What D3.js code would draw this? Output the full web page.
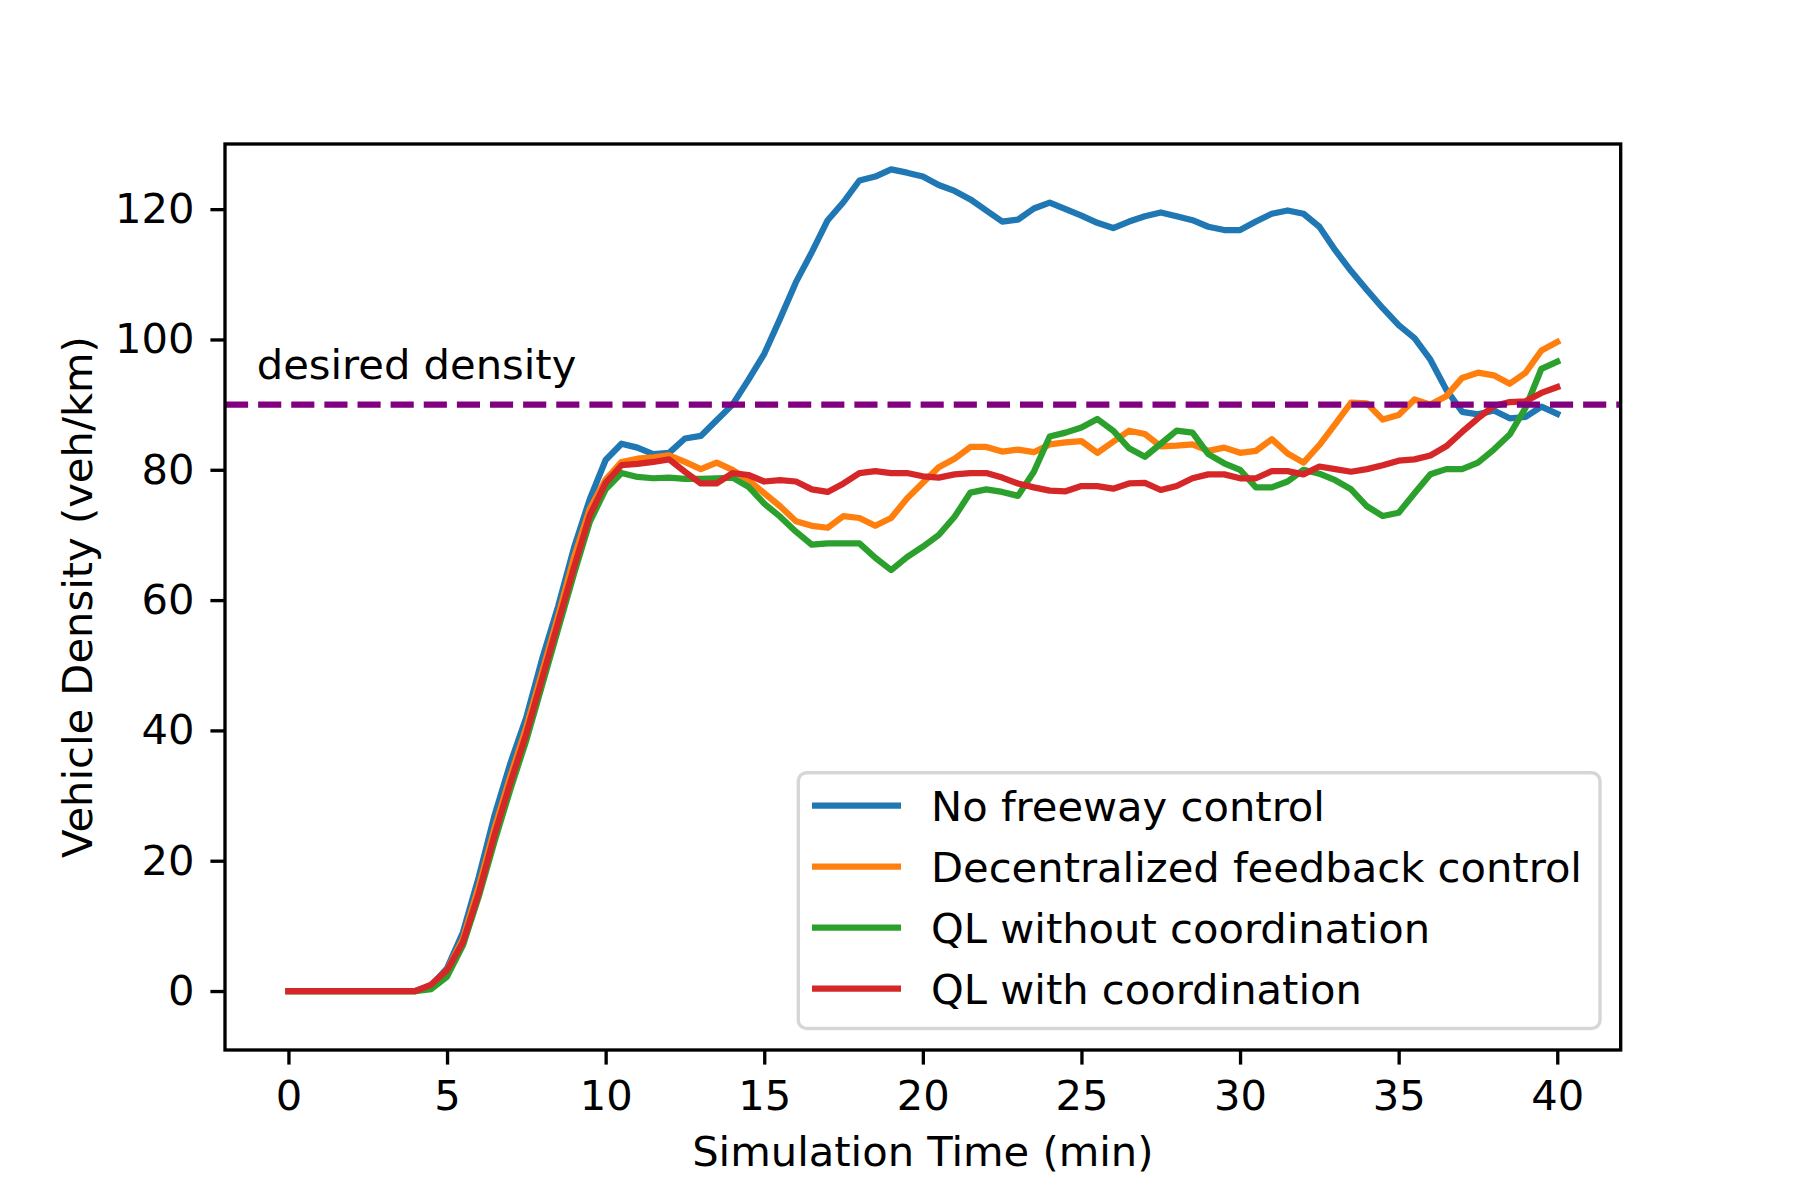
<!DOCTYPE html>
<html>
<head>
<meta charset="utf-8">
<script src="https://cdn.jsdelivr.net/npm/d3@7"></script>
<style>
  html, body { margin: 0; padding: 0; background: #ffffff; }
  svg { display: block; font-family: "DejaVu Sans", sans-serif; }
</style>
</head>
<body>
<svg id="chart" width="1800" height="1200"></svg>
<script>
// ---- Data ----
const timeMin = [0,0.5,1,1.5,2,2.5,3,3.5,4,4.5,5,5.5,6,6.5,7,7.5,8,8.5,9,9.5,10,10.5,11,11.5,12,12.5,13,13.5,14,14.5,15,15.5,16,16.5,17,17.5,18,18.5,19,19.5,20,20.5,21,21.5,22,22.5,23,23.5,24,24.5,25,25.5,26,26.5,27,27.5,28,28.5,29,29.5,30,30.5,31,31.5,32,32.5,33,33.5,34,34.5,35,35.5,36,36.5,37,37.5,38,38.5,39,39.5,40];

const noControl = [0,0,0,0,0,0,0,0,0,0.8,3.5,9.0,17.5,27.0,35.0,42.0,51.0,59.0,68.0,75.5,81.5,84.0,83.4,82.4,82.6,84.8,85.2,87.6,90.0,93.8,97.8,103.2,108.8,113.4,118.3,121.1,124.4,125.0,126.1,125.6,125.0,123.7,122.8,121.5,119.8,118.1,118.4,120.1,121.0,120.0,119.0,117.9,117.1,118.1,118.9,119.5,118.9,118.3,117.3,116.8,116.8,118.1,119.3,119.8,119.3,117.3,113.7,110.5,107.6,104.8,102.2,100.2,96.9,92.3,88.9,88.5,89.1,87.9,88.1,89.7,88.6];

const decentralized = [0,0,0,0,0,0,0,0,0,0.8,3.2,8.0,16.0,25.0,33.0,40.5,49.0,57.5,66.5,74.0,78.5,81.2,81.7,81.9,82.2,81.2,80.1,81.1,80.0,78.4,76.4,74.4,72.1,71.4,71.1,72.9,72.6,71.4,72.6,75.6,78.0,80.4,81.7,83.5,83.5,82.8,83.1,82.7,83.9,84.2,84.4,82.6,84.3,86.0,85.5,83.6,83.7,83.9,82.9,83.4,82.6,82.9,84.7,82.5,81.1,83.8,87.0,90.3,90.2,87.7,88.4,90.8,90.0,91.3,94.1,94.9,94.5,93.2,94.9,98.3,99.6];

const qlNoCoord = [0,0,0,0,0,0,0,0,0,0.3,2.2,7.0,14.5,23.0,31.0,38.5,47.0,55.5,64.0,72.0,77.0,79.5,78.9,78.7,78.8,78.6,78.6,78.7,78.8,77.4,74.8,72.8,70.5,68.5,68.7,68.7,68.7,66.5,64.6,66.6,68.2,70.0,72.8,76.5,77.0,76.6,76.0,79.7,85.1,85.7,86.5,87.8,86.0,83.3,82.0,84.0,86.0,85.7,82.4,81.0,80.0,77.3,77.3,78.2,80.0,79.4,78.4,77.0,74.4,72.9,73.4,76.4,79.3,80.1,80.1,81.1,83.1,85.4,89.5,95.5,96.6];

const qlCoord = [0,0,0,0,0,0,0,0,0,1.0,3.2,7.5,15.0,24.0,32.0,39.5,48.0,56.5,65.0,73.0,78.0,80.7,80.9,81.2,81.6,79.7,77.9,77.9,79.5,79.2,78.2,78.4,78.2,77.0,76.6,77.9,79.5,79.8,79.5,79.5,79.0,78.8,79.3,79.5,79.5,78.8,77.9,77.3,76.8,76.7,77.5,77.5,77.1,77.9,78.0,76.9,77.5,78.7,79.3,79.3,78.7,78.7,79.8,79.8,79.3,80.5,80.1,79.7,80.1,80.7,81.4,81.6,82.2,83.6,85.8,87.9,89.8,90.4,90.5,91.8,92.7];

const seriesNames = ["No freeway control", "Decentralized feedback control", "QL without coordination", "QL with coordination"];
const seriesColors = ["#1f77b4", "#ff7f0e", "#2ca02c", "#d62728"];
const seriesValues = [noControl, decentralized, qlNoCoord, qlCoord];

const xTicks = [0, 5, 10, 15, 20, 25, 30, 35, 40];
const yTicks = [0, 20, 40, 60, 80, 100, 120];
const desiredDensity = 90;
const desiredLabel = "desired density";
const xLabel = "Simulation Time (min)";
const yLabel = "Vehicle Density (veh/km)";

// ---- Layout ----
const L = 225, R = 1620.7, T = 144, B = 1050;
const FS = 41.67;
const LW = 6.25;
const svg = d3.select("#chart");

const x = d3.scaleLinear().domain([-2, 42]).range([L, R]);
const y = d3.scaleLinear().domain([-9.05, 130]).range([B, T]);

// Axes
const xAxis = svg.append("g").attr("transform", `translate(0,${B})`)
  .call(d3.axisBottom(x).tickValues(xTicks).tickFormat(d3.format("d")).tickSize(14.6).tickPadding(15.8).tickSizeOuter(0));
const yAxis = svg.append("g").attr("transform", `translate(${L},0)`)
  .call(d3.axisLeft(y).tickValues(yTicks).tickFormat(d3.format("d")).tickSize(14.6).tickPadding(16).tickSizeOuter(0));
[xAxis, yAxis].forEach(g => {
  g.select(".domain").remove();
  g.selectAll(".tick line").attr("stroke", "#000").attr("stroke-width", 3.33);
  g.selectAll(".tick text").attr("fill", "#000").style("font-size", FS + "px").style("font-family", "'DejaVu Sans', sans-serif");
});

// Lines
const lineGen = vals => d3.line().x((d, i) => x(timeMin[i])).y(d => y(d))(vals);
seriesValues.forEach((vals, k) => {
  svg.append("path")
    .attr("d", lineGen(vals))
    .attr("fill", "none")
    .attr("stroke", seriesColors[k])
    .attr("stroke-width", LW)
    .attr("stroke-linejoin", "round")
    .attr("stroke-linecap", "square");
});

// Desired density line
svg.append("line")
  .attr("x1", L).attr("x2", R)
  .attr("y1", y(desiredDensity)).attr("y2", y(desiredDensity))
  .attr("stroke", "#800080").attr("stroke-width", LW)
  .attr("stroke-dasharray", "23.125 10");

svg.append("text")
  .attr("x", x(-1)).attr("y", y(94))
  .style("font-size", FS + "px").attr("fill", "#000")
  .text(desiredLabel);

// Frame
svg.append("rect")
  .attr("x", L).attr("y", T).attr("width", R - L).attr("height", B - T)
  .attr("fill", "none").attr("stroke", "#000").attr("stroke-width", 3.33);

// Axis labels
svg.append("text")
  .attr("x", (L + R) / 2).attr("y", 1166)
  .attr("text-anchor", "middle")
  .style("font-size", FS + "px").attr("fill", "#000")
  .text(xLabel);
svg.append("text")
  .attr("transform", `translate(92,${(T + B) / 2}) rotate(-90)`)
  .attr("text-anchor", "middle")
  .style("font-size", FS + "px").attr("fill", "#000")
  .text(yLabel);

// Legend
const leg = svg.append("g");
leg.append("rect")
  .attr("x", 798.3).attr("y", 772.7).attr("width", 1600 - 798.3).attr("height", 1028.5 - 772.7)
  .attr("rx", 8.3).attr("ry", 8.3)
  .attr("fill", "#ffffff").attr("fill-opacity", 0.8)
  .attr("stroke", "#cccccc").attr("stroke-opacity", 0.8).attr("stroke-width", 3.4);
seriesNames.forEach((name, k) => {
  const ly = 805.7 + k * 61;
  leg.append("line")
    .attr("x1", 812).attr("x2", 901)
    .attr("y1", ly).attr("y2", ly)
    .attr("stroke", seriesColors[k]).attr("stroke-width", LW);
  leg.append("text")
    .attr("x", 931).attr("y", ly + 15.3)
    .style("font-size", FS + "px").attr("fill", "#000")
    .text(name);
});
</script>
</body>
</html>
